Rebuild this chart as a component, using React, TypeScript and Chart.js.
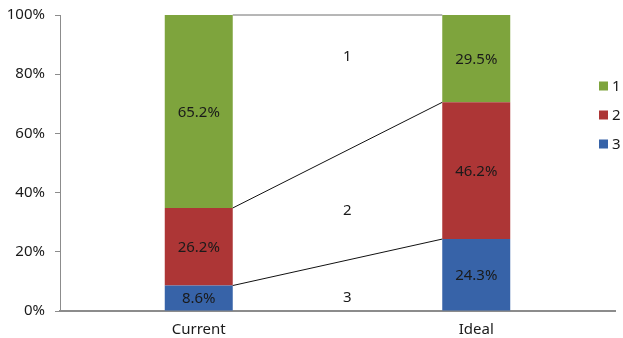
import React, { useEffect, useRef } from "react";
import { Chart, registerables } from "chart.js";

Chart.register(...registerables);

// Categories and shares (percent of total)
const categories = ["Current", "Ideal"];
const seriesNames = ["1", "2", "3"];
const series1 = [65.2, 29.5];
const series2 = [26.2, 46.2];
const series3 = [8.6, 24.3];
const seriesColors = ["#7EA43D", "#AD3636", "#3763A8"];
const yTicks = [0, 20, 40, 60, 80, 100];

// Segment names written in the gap between the two bars
// (x as a fractional category index, y on the value scale)
const gapLabels = ["1", "2", "3"];
const gapLabelX = 0.535;
const gapLabelValues = [86, 34, 4.5];

const FONT = "'Noto Sans', 'DejaVu Sans', sans-serif";
const FONT_SIZE = 15;

const overlayPlugin = {
  id: "overlay",
  afterDatasetsDraw(chart: any) {
    const ctx = chart.ctx;
    const yScale = chart.scales.y;
    const xScale = chart.scales.x;
    const n = chart.data.datasets.length;

    // series lines joining the stack boundaries of the two bars
    const metas = [];
    for (let i = 0; i < n; i++) metas.push(chart.getDatasetMeta(i));
    ctx.save();
    for (let i = 0; i < n; i++) {
      const a = metas[i].data[0];
      const b = metas[i].data[1];
      const x1 = a.x + a.width / 2;
      const x2 = b.x - b.width / 2;
      ctx.beginPath();
      ctx.strokeStyle = i === n - 1 ? "#6e6e6e" : "#111111";
      ctx.lineWidth = 1;
      ctx.moveTo(x1, a.y);
      ctx.lineTo(x2, b.y);
      ctx.stroke();
    }

    // value labels centred in each segment
    ctx.font = `${FONT_SIZE}px ${FONT}`;
    ctx.fillStyle = "#1a1a1a";
    ctx.textAlign = "center";
    ctx.textBaseline = "middle";
    for (let i = 0; i < n; i++) {
      const ds = chart.data.datasets[i];
      metas[i].data.forEach((el: any, j: number) => {
        const mid = (el.y + el.base) / 2;
        ctx.fillText(ds.data[j].toFixed(1) + "%", el.x, mid + 1);
      });
    }

    // gap labels
    const gx = xScale.getPixelForValue(gapLabelX);
    gapLabels.forEach((t, k) => {
      ctx.fillText(t, gx, yScale.getPixelForValue(gapLabelValues[k]));
    });

    // legend
    ctx.textAlign = "left";
    seriesNames.forEach((name, k) => {
      const cy = 86 + k * 29;
      ctx.fillStyle = seriesColors[k];
      ctx.fillRect(599, cy - 4.5, 9, 9);
      ctx.fillStyle = "#1a1a1a";
      ctx.fillText(name, 612, cy + 1);
    });
    ctx.restore();
  },
};

export default function App() {
  const ref = useRef<HTMLCanvasElement>(null);

  useEffect(() => {
    if (!ref.current) return;
    const chart = new Chart(ref.current, {
      type: "bar",
      data: {
        labels: categories,
        datasets: [
          { label: seriesNames[2], data: series3, backgroundColor: seriesColors[2] },
          { label: seriesNames[1], data: series2, backgroundColor: seriesColors[1] },
          { label: seriesNames[0], data: series1, backgroundColor: seriesColors[0] },
        ],
      },
      options: {
        responsive: false,
        animation: false,
        events: [],
        layout: { autoPadding: false, padding: { top: 15, right: 8, left: 0, bottom: 0 } },
        datasets: {
          bar: { categoryPercentage: 1, barPercentage: 0.245, borderWidth: 0 },
        },
        plugins: { legend: { display: false }, tooltip: { enabled: false } },
        scales: {
          x: {
            stacked: true,
            grid: { display: false },
            border: { color: "#8c8c8c", width: 2 },
            ticks: { color: "#1a1a1a", font: { family: FONT, size: FONT_SIZE }, padding: 2 },
            afterFit(scale: any) {
              scale.height = 27;
              scale.paddingLeft = 0;
              scale.paddingRight = 0;
            },
          },
          y: {
            stacked: true,
            min: 0,
            max: 100,
            afterBuildTicks(scale: any) {
              scale.ticks = yTicks.map((v) => ({ value: v }));
            },
            grid: {
              drawOnChartArea: false,
              drawTicks: true,
              tickLength: 5,
              color: "#8c8c8c",
            },
            border: { color: "#8c8c8c", width: 1 },
            ticks: {
              color: "#1a1a1a",
              font: { family: FONT, size: FONT_SIZE },
              padding: 10,
              callback: (v: any) => v + "%",
            },
            afterFit(scale: any) {
              scale.width = 60;
              scale.paddingTop = 0;
              scale.paddingBottom = 0;
            },
          },
        },
      },
      plugins: [overlayPlugin],
    });
    return () => chart.destroy();
  }, []);

  return (
    <div style={{ position: "fixed", left: 0, top: 0, width: 623, height: 338, background: "#fff" }}>
      <canvas ref={ref} width={623} height={338} style={{ display: "block" }} />
    </div>
  );
}
